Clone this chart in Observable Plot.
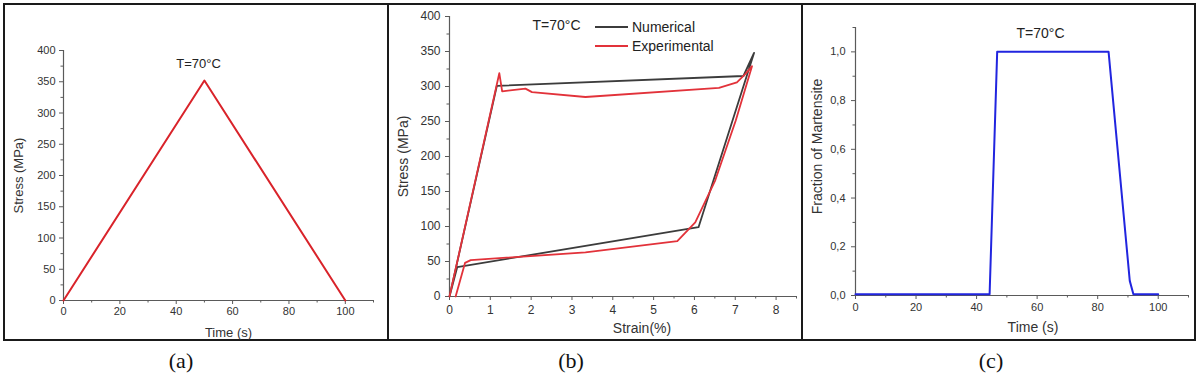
<!DOCTYPE html>
<html><head><meta charset="utf-8">
<script src="https://cdn.jsdelivr.net/npm/d3@7"></script>
<script src="https://cdn.jsdelivr.net/npm/@observablehq/plot@0.6"></script>
<style>
html,body{margin:0;padding:0;background:#fff;}
#root{position:relative;width:1200px;height:375px;overflow:hidden;background:#fff;font-family:"Liberation Sans",Arial,sans-serif;}
.frame{position:absolute;box-sizing:border-box;}
.panel{position:absolute;top:5px;}
.panel svg{overflow:visible;}
.cap{position:absolute;top:349px;line-height:24px;font-family:"Liberation Serif","Times New Roman",serif;font-size:22px;color:#111;transform:translateX(-50%);white-space:nowrap;}
.leg{position:absolute;font-size:14px;color:#222;line-height:16px;white-space:nowrap;}
.sw{position:absolute;height:2px;}
</style></head><body><div id="root"></div>
<script>
// ---------- Data ----------
// (a) loading history
const aTime = [0, 50, 100];
const aStress = [0, 352, 0];
const aXMajor = [0, 20, 40, 60, 80, 100];
const aXMinor = [10, 30, 50, 70, 90, 110];
const aYMajor = [0, 50, 100, 150, 200, 250, 300, 350, 400];
const aYMinor = [25, 75, 125, 175, 225, 275, 325, 375];

// (b) stress-strain loops
const bNumStrain = [0, 1.16, 7.2, 7.46, 6.1, 0.19, 0];
const bNumStress = [0, 301, 315, 348, 99, 42, 0];
const bExpStrain = [0, 1.22, 1.29, 1.86, 2.02, 3.33, 6.6, 7.04, 7.25, 7.41, 7.01, 6.51, 6.02, 5.58, 3.33, 0.52, 0.38, 0.15];
const bExpStress = [0, 319, 293, 297, 292, 285, 298, 306, 318, 329, 251, 166, 106, 79, 63, 52, 48, 0];
const bXMajor = [0, 1, 2, 3, 4, 5, 6, 7, 8];
const bXMinor = [0.5, 1.5, 2.5, 3.5, 4.5, 5.5, 6.5, 7.5, 8.5];
const bYMajor = [0, 50, 100, 150, 200, 250, 300, 350, 400];
const bYMinor = [25, 75, 125, 175, 225, 275, 325, 375];
const bSeries = ["Numerical", "Experimental"];

// (c) martensite fraction
const cTime = [0, 44.3, 46.8, 83.6, 90.6, 91.8, 100];
const cFrac = [0.005, 0.005, 1, 1, 0.06, 0.005, 0.005];
const cXMajor = [0, 20, 40, 60, 80, 100];
const cXMinor = [10, 30, 50, 70, 90, 110];
const cYMajor = [0, 0.2, 0.4, 0.6, 0.8, 1.0];
const cYMinor = [0.1, 0.3, 0.5, 0.7, 0.9, 1.1];

const tempLabel = "T=70°C";
const captions = ["(a)", "(b)", "(c)"];

// ---------- Styles ----------
const axisColor = "#5a5a5a";
const textColor = "#333";
const fontFamily = '"Liberation Sans", Arial, sans-serif';
const red = "#d9232a";
const red2 = "#e2323a";
const gray = "#3c3c3c";
const blue = "#2125df";

const root = document.getElementById("root");

function axes(xMaj, xMin, yMaj, yMin, fs, padX, padY, fmtY) {
  return [
    Plot.ruleY([0], {stroke: axisColor, strokeWidth: 1.2}),
    Plot.ruleX([0], {stroke: axisColor, strokeWidth: 1.2}),
    Plot.axisX(xMaj, {anchor: "bottom", tickSize: 4, tickPadding: padX, stroke: axisColor, fill: textColor, fontSize: fs, label: null}),
    Plot.axisX(xMin, {anchor: "bottom", tickSize: 2.5, tickFormat: () => "", stroke: axisColor, label: null}),
    Plot.axisY(yMaj, {anchor: "left", tickSize: 4, tickPadding: padY, stroke: axisColor, fill: textColor, fontSize: fs, label: null, tickFormat: fmtY}),
    Plot.axisY(yMin, {anchor: "left", tickSize: 2.5, tickFormat: () => "", stroke: axisColor, label: null})
  ];
}

function addPanel(left, svg) {
  const d = document.createElement("div");
  d.className = "panel";
  d.style.left = left + "px";
  d.appendChild(svg);
  root.appendChild(d);
}

// borders
const outer = document.createElement("div");
outer.className = "frame";
Object.assign(outer.style, {left: "3px", top: "3px", width: "1193px", height: "338px", border: "2px solid #1a1a1a"});
root.appendChild(outer);
for (const x of [387, 801]) {
  const v = document.createElement("div");
  v.className = "frame";
  Object.assign(v.style, {left: x + "px", top: "3px", width: "2px", height: "338px", background: "#1a1a1a"});
  root.appendChild(v);
}

// ---------- Panel (a) ----------
const aData = aTime.map((t, i) => ({t, s: aStress[i]}));
addPanel(5, Plot.plot({
  width: 382, height: 334,
  marginLeft: 58, marginRight: 14, marginTop: 45, marginBottom: 39,
  x: {domain: [0, 110], axis: null},
  y: {domain: [0, 400], axis: null},
  style: {fontFamily, background: "transparent", color: textColor},
  marks: [
    ...axes(aXMajor, aXMinor, aYMajor, aYMinor, 11, 3, 4, d => String(d)),
    Plot.line(aData, {x: "t", y: "s", stroke: red, strokeWidth: 2}),
    Plot.text(["Time (s)"], {text: d => d, frameAnchor: "bottom", textAnchor: "middle", lineAnchor: "middle", dx: 10, dy: 32, fontSize: 13, fill: textColor}),
    Plot.text(["Stress (MPa)"], {text: d => d, frameAnchor: "left", textAnchor: "middle", lineAnchor: "middle", rotate: -90, dx: -45, fontSize: 13, fill: textColor}),
    Plot.text([tempLabel], {text: d => d, frameAnchor: "top-left", textAnchor: "middle", lineAnchor: "middle", dx: 135, dy: 13, fontSize: 13, fill: "#222"})
  ]
}));

// ---------- Panel (b) ----------
const bData = [
  ...bNumStrain.map((x, i) => ({series: bSeries[0], x, y: bNumStress[i]})),
  ...bExpStrain.map((x, i) => ({series: bSeries[1], x, y: bExpStress[i]}))
];
addPanel(389, Plot.plot({
  width: 412, height: 334,
  marginLeft: 60, marginRight: 5, marginTop: 11, marginBottom: 43,
  x: {domain: [0, 8.5], axis: null},
  y: {domain: [0, 400], axis: null},
  color: {domain: bSeries, range: [gray, red2]},
  style: {fontFamily, background: "transparent", color: textColor},
  marks: [
    ...axes(bXMajor, bXMinor, bYMajor, bYMinor, 12, 5, 5, d => String(d)),
    Plot.line(bData, {x: "x", y: "y", z: "series", stroke: "series", strokeWidth: 1.8}),
    Plot.text(["Strain(%)"], {text: d => d, frameAnchor: "bottom", textAnchor: "middle", lineAnchor: "middle", dx: 19, dy: 32, fontSize: 14, fill: textColor}),
    Plot.text(["Stress (MPa)"], {text: d => d, frameAnchor: "left", textAnchor: "middle", lineAnchor: "middle", rotate: -90, dx: -46, fontSize: 14, fill: textColor}),
    Plot.text([tempLabel], {text: d => d, frameAnchor: "top-left", textAnchor: "middle", lineAnchor: "middle", dx: 107, dy: 9, fontSize: 14, fill: "#222"})
  ]
}));
// legend for (b)
[[gray, 27], [red2, 46]].forEach(([c, y], i) => {
  const s = document.createElement("div");
  s.className = "sw";
  Object.assign(s.style, {left: "595px", top: (y - 1) + "px", width: "33px", background: c});
  root.appendChild(s);
  const t = document.createElement("div");
  t.className = "leg";
  t.textContent = bSeries[i];
  Object.assign(t.style, {left: "632px", top: (y - 8) + "px"});
  root.appendChild(t);
});

// ---------- Panel (c) ----------
const cData = cTime.map((t, i) => ({t, f: cFrac[i]}));
addPanel(803, Plot.plot({
  width: 391, height: 334,
  marginLeft: 52, marginRight: 6, marginTop: 22, marginBottom: 44,
  x: {domain: [0, 110], axis: null},
  y: {domain: [0, 1.1], axis: null},
  style: {fontFamily, background: "transparent", color: textColor},
  marks: [
    ...axes(cXMajor, cXMinor, cYMajor, cYMinor, 11, 4, 6, d => d.toFixed(1).replace(".", ",")),
    Plot.line(cData, {x: "t", y: "f", stroke: blue, strokeWidth: 2}),
    Plot.text(["Time (s)"], {text: d => d, frameAnchor: "bottom", textAnchor: "middle", lineAnchor: "middle", dx: 11, dy: 32, fontSize: 14, fill: textColor}),
    Plot.text(["Fraction of Martensite"], {text: d => d, frameAnchor: "left", textAnchor: "middle", lineAnchor: "middle", rotate: -90, dx: -38, dy: -15, fontSize: 14, fill: textColor}),
    Plot.text([tempLabel], {text: d => d, frameAnchor: "top-left", textAnchor: "middle", lineAnchor: "middle", dx: 185, dy: 6, fontSize: 14, fill: "#222"})
  ]
}));

// captions
[181, 571, 991].forEach((x, i) => {
  const c = document.createElement("div");
  c.className = "cap";
  c.style.left = x + "px";
  c.textContent = captions[i];
  root.appendChild(c);
});
</script></body></html>
